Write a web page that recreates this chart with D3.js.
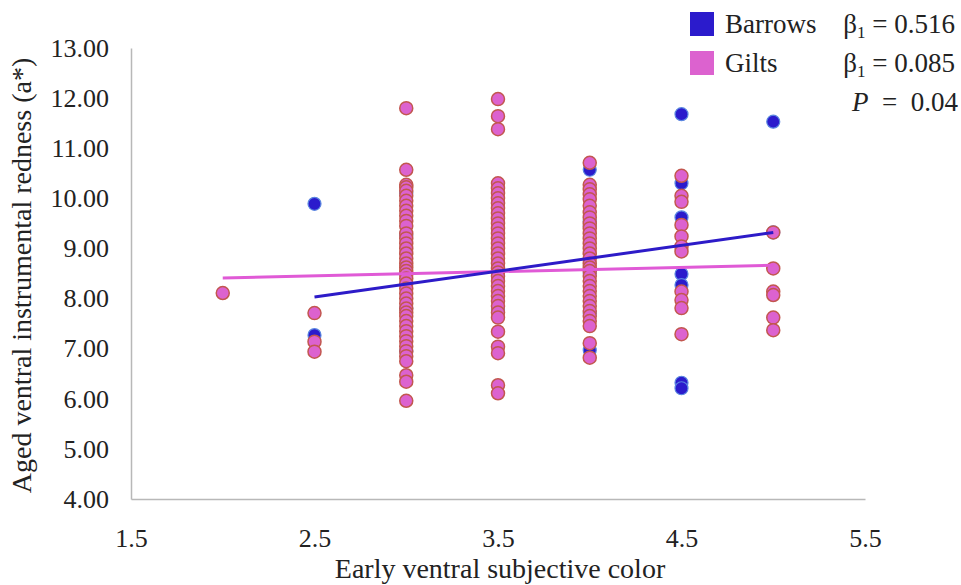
<!DOCTYPE html>
<html>
<head>
<meta charset="utf-8">
<script src="https://cdn.jsdelivr.net/npm/d3@7"></script>
<style>
  html, body { margin: 0; padding: 0; background: #fff; }
  svg { display: block; }
  text { font-family: "Liberation Serif", "Times New Roman", serif; fill: #222; }
</style>
</head>
<body>
<svg id="chart" width="961" height="585"></svg>
<script>
// ---- data ----
const xTicks = [1.5, 2.5, 3.5, 4.5, 5.5];
const yTicks = [4, 5, 6, 7, 8, 9, 10, 11, 12, 13];

const barrows = [
  [2.5, 9.89], [2.5, 7.27],
  [3, 10.10], [3, 9.27], [3, 8.50], [3, 7.80], [3, 6.95],
  [3.5, 9.90], [3.5, 9.37], [3.5, 8.71], [3.5, 8.37], [3.5, 7.77],
  [4, 10.57], [4, 9.54], [4, 9.45], [4, 8.50], [4, 7.70], [4, 6.97],
  [4.5, 11.68], [4.5, 10.30], [4.5, 9.62], [4.5, 8.49], [4.5, 8.27], [4.5, 6.32], [4.5, 6.21],
  [5, 11.53], [5, 9.32]
];

const gilts = [
  [2, 8.11],
  [2.5, 7.71], [2.5, 7.14], [2.5, 6.94],
  [3, 11.80], [3, 10.57], [3, 10.27], [3, 10.22], [3, 10.15], [3, 10.05], [3, 9.95], [3, 9.85],
  [3, 9.75], [3, 9.65], [3, 9.55], [3, 9.45], [3, 9.30], [3, 9.20], [3, 9.10], [3, 9.00],
  [3, 8.90], [3, 8.80], [3, 8.70], [3, 8.62], [3, 8.55], [3, 8.48], [3, 8.40], [3, 8.30],
  [3, 8.20], [3, 8.10], [3, 8.00], [3, 7.90], [3, 7.80], [3, 7.72], [3, 7.65], [3, 7.55],
  [3, 7.45], [3, 7.35], [3, 7.25], [3, 7.15], [3, 7.05], [3, 6.95], [3, 6.85], [3, 6.75],
  [3, 6.47], [3, 6.34], [3, 5.96],
  [3.5, 11.98], [3.5, 11.64], [3.5, 11.38], [3.5, 10.30], [3.5, 10.20], [3.5, 10.10], [3.5, 10.00],
  [3.5, 9.90], [3.5, 9.80], [3.5, 9.70], [3.5, 9.60], [3.5, 9.50], [3.5, 9.40], [3.5, 9.30],
  [3.5, 9.20], [3.5, 9.10], [3.5, 9.00], [3.5, 8.90], [3.5, 8.80], [3.5, 8.70], [3.5, 8.60],
  [3.5, 8.52], [3.5, 8.45], [3.5, 8.35], [3.5, 8.25], [3.5, 8.15], [3.5, 8.05], [3.5, 7.95],
  [3.5, 7.85], [3.5, 7.72], [3.5, 7.62], [3.5, 7.34], [3.5, 7.04], [3.5, 6.91], [3.5, 6.27], [3.5, 6.11],
  [4, 10.71], [4, 10.27], [4, 10.18], [4, 10.08], [4, 9.98], [4, 9.85], [4, 9.72], [4, 9.62],
  [4, 9.50], [4, 9.40], [4, 9.30], [4, 9.20], [4, 9.10], [4, 9.00], [4, 8.90], [4, 8.80],
  [4, 8.70], [4, 8.62], [4, 8.55], [4, 8.45], [4, 8.35], [4, 8.25], [4, 8.15], [4, 8.05],
  [4, 7.95], [4, 7.85], [4, 7.75], [4, 7.65], [4, 7.55], [4, 7.45], [4, 7.11], [4, 6.82],
  [4.5, 10.45], [4.5, 10.05], [4.5, 9.93], [4.5, 9.47], [4.5, 9.24], [4.5, 9.04], [4.5, 8.94],
  [4.5, 8.14], [4.5, 7.97], [4.5, 7.81], [4.5, 7.29],
  [5, 9.32], [5, 8.60], [5, 8.14], [5, 8.07], [5, 7.62], [5, 7.37]
];

const barrowsFit = [[2.5, 8.03], [5, 9.32]];
const giltsFit = [[2, 8.41], [5, 8.665]];

const seriesNames = ["Barrows", "Gilts"];
const betaValues = ["0.516", "0.085"];
const pValue = "0.04";

// ---- drawing ----
const svg = d3.select("#chart");
const x = d3.scaleLinear().domain([1.5, 5.5]).range([131, 865]);
const y = d3.scaleLinear().domain([4, 13]).range([499, 48]);

const blue = "#2b1bcc";
const pink = "#dc62cf";
const axisColor = "#b8b8b8";

// axes
const xAxis = svg.append("g").attr("transform", `translate(0,${y(4)})`)
  .call(d3.axisBottom(x).tickValues(xTicks).tickSize(0).tickPadding(30).tickFormat(d3.format(".1f")));
const yAxis = svg.append("g").attr("transform", `translate(${x(1.5)},0)`)
  .call(d3.axisLeft(y).tickValues(yTicks).tickSize(0).tickPadding(22).tickFormat(d3.format(".2f")));
[xAxis, yAxis].forEach(g => {
  g.select(".domain").attr("stroke", axisColor).attr("stroke-width", 1.5);
  g.selectAll("text").attr("font-family", "Liberation Serif, serif").attr("font-size", 26).attr("fill", "#222");
});

// axis titles
svg.append("text").attr("x", 500).attr("y", 578).attr("text-anchor", "middle")
  .attr("font-size", 28).text("Early ventral subjective color");
svg.append("text").attr("transform", `translate(31,${(y(4)+y(13))/2 + 2}) rotate(-90)`)
  .attr("text-anchor", "middle").attr("font-size", 28).text("Aged ventral instrumental redness (a*)");

// points: barrows first, gilts on top
svg.append("g").selectAll("circle").data(barrows).join("circle")
  .attr("cx", d => x(d[0])).attr("cy", d => y(d[1])).attr("r", 6.5)
  .attr("fill", blue).attr("stroke", "#5a86e0").attr("stroke-width", 1.2);
svg.append("g").selectAll("circle").data(gilts).join("circle")
  .attr("cx", d => x(d[0])).attr("cy", d => y(d[1])).attr("r", 6.5)
  .attr("fill", pink).attr("stroke", "#c2574f").attr("stroke-width", 1.5);

// fit lines
const line = d3.line().x(d => x(d[0])).y(d => y(d[1]));
svg.append("path").datum(giltsFit).attr("d", line).attr("fill", "none")
  .attr("stroke", "#e05ad6").attr("stroke-width", 3);
svg.append("path").datum(barrowsFit).attr("d", line).attr("fill", "none")
  .attr("stroke", "#2d1bc8").attr("stroke-width", 3);

// legend
const colors = [blue, pink];
const lg = svg.append("g");
seriesNames.forEach((name, i) => {
  const cy = 24 + i * 39;
  lg.append("rect").attr("x", 690).attr("y", cy - 12).attr("width", 24).attr("height", 24).attr("fill", colors[i]);
  lg.append("text").attr("x", 725).attr("y", cy + 9).attr("font-size", 27).text(name);
  const t = lg.append("text").attr("x", 955).attr("y", cy + 9).attr("font-size", 27).attr("text-anchor", "end");
  t.append("tspan").text("β");
  t.append("tspan").attr("font-size", 17).attr("dy", 5).text("1");
  t.append("tspan").attr("dy", -5).text(" = " + betaValues[i]);
});
const pt = lg.append("text").attr("x", 958).attr("y", 111).attr("font-size", 27).attr("text-anchor", "end")
  .attr("xml:space", "preserve");
pt.append("tspan").attr("font-style", "italic").text("P");
pt.append("tspan").text("  =  " + pValue);
</script>
</body>
</html>
